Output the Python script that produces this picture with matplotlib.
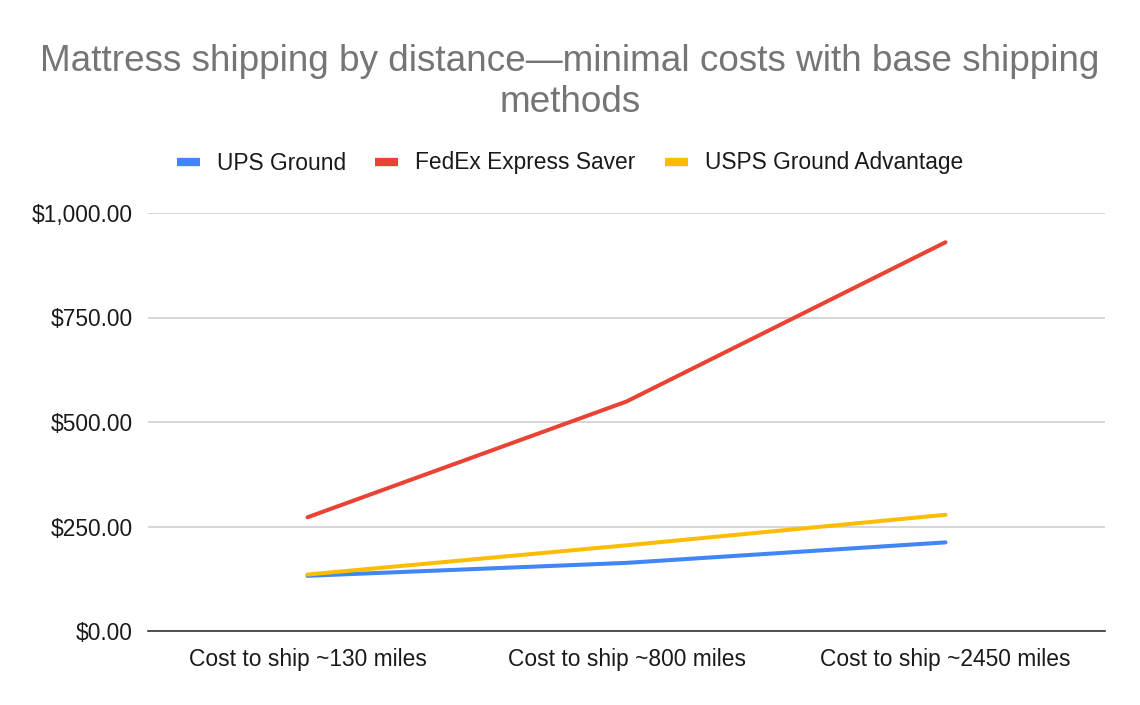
import matplotlib.pyplot as plt
from matplotlib.lines import Line2D
from matplotlib.ticker import FuncFormatter

plt.rcParams['font.family'] = ['Liberation Sans', 'DejaVu Sans']

# Data
categories = ["Cost to ship ~130 miles", "Cost to ship ~800 miles", "Cost to ship ~2450 miles"]
ups_ground = [132, 163, 212]
fedex_express_saver = [272, 549, 930]
usps_ground_advantage = [135, 205, 278]
series_names = ["UPS Ground", "FedEx Express Saver", "USPS Ground Advantage"]
colors = ["#4285F4", "#EA4335", "#FBBC04"]
y_ticks = [0, 250, 500, 750, 1000]

W, H = 1140, 705
fig = plt.figure(figsize=(W / 100, H / 100), dpi=100)
ax = fig.add_axes([148 / W, (H - 631) / H, (1105 - 148) / W, (631 - 213) / H])

x = list(range(len(categories)))
for vals, name, col in zip([ups_ground, fedex_express_saver, usps_ground_advantage], series_names, colors):
    ax.plot(x, vals, color=col, lw=2.9, label=name, solid_capstyle='round', zorder=3)

ax.set_xlim(-0.5, len(categories) - 0.5)
ax.set_ylim(0, 1000)
ax.set_yticks(y_ticks)
ax.yaxis.set_major_formatter(FuncFormatter(lambda v, p: f"${v:,.2f}"))
ax.set_xticks(x)
ax.set_xticklabels(categories)
ax.tick_params(axis='both', length=0, labelsize=16.4, colors='#1a1a1a')
ax.tick_params(axis='y', pad=11)
ax.tick_params(axis='x', pad=12)
ax.grid(axis='y', color='#cccccc', lw=1.1, zorder=0)
for s in ['top', 'right', 'left']:
    ax.spines[s].set_visible(False)
ax.spines['bottom'].set_color('#333333')
ax.spines['bottom'].set_linewidth(1.2)
ax.spines['bottom'].set_zorder(4)

fig.text(0.5, 1 - 82 / H, "Mattress shipping by distance\u2014minimal costs with base shipping\nmethods",
         ha='center', va='center', fontsize=26.6, color='#757575', linespacing=1.25)

handles = [Line2D([0], [0], color=c, lw=6, solid_capstyle='butt') for c in colors]
fig.legend(handles, series_names, loc='center', bbox_to_anchor=(0.5, 1 - 163 / H), ncol=3,
           frameon=False, fontsize=16.4, handlelength=1.0, handletextpad=0.75, columnspacing=1.3,
           labelcolor='#1a1a1a')

fig.savefig("out.png", dpi=100)
